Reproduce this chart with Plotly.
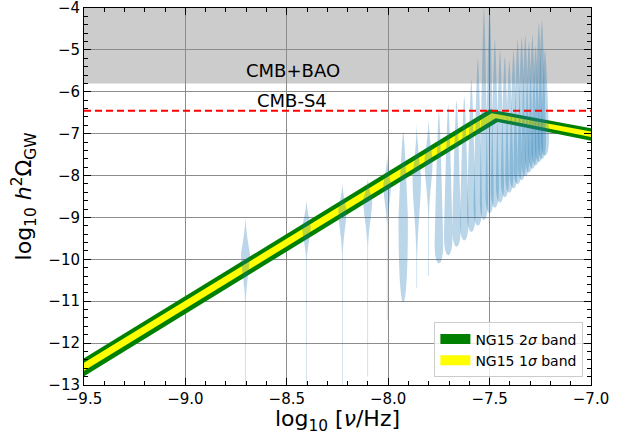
import numpy as np
import plotly.graph_objects as go

# ---------------- data ----------------
# NG15 broken power-law bands: (log10 f, log10 h^2 Omega) knots of each edge
band2_up_x = [-9.5, -7.50, -7.0]
band2_up_y = [-12.36, -6.42, -6.87]
band2_lo_x = [-9.5, -7.46, -7.0]
band2_lo_y = [-12.79, -6.72, -7.17]
band1_up_x = [-9.5, -7.49, -7.0]
band1_up_y = [-12.47, -6.51, -6.95]
band1_lo_x = [-9.5, -7.47, -7.0]
band1_lo_y = [-12.66, -6.63, -7.08]

# free-spectrum violins: frequency bin, top, widest point, end of bulk, bottom, half-width
vio_logf = [-8.704, -8.403, -8.226, -8.101, -8.005, -7.926, -7.859, -7.801, -7.750, -7.704,
            -7.663, -7.625, -7.590, -7.558, -7.528, -7.500, -7.474, -7.449, -7.425, -7.403,
            -7.382, -7.362, -7.342, -7.324, -7.306, -7.289, -7.273, -7.257, -7.242, -7.227]
vio_top = [-8.95, -8.55, -8.15, -8.05, -7.50, -6.96, -6.72, -6.60, -6.45, -6.30,
           -6.20, -6.10, -5.70, -5.20, -4.00, -3.90, -4.75, -5.00, -5.15, -5.25,
           -5.00, -4.75, -4.70, -4.65, -4.80, -4.65, -4.90, -4.35, -4.30, -5.00]
vio_peak = [-9.85, -9.20, -8.80, -8.55, -8.20, -9.00, -8.00, -7.60, -9.60, -9.40,
            -9.20, -9.05, -8.85, -8.70, -8.55, -8.40, -8.25, -8.15, -8.00, -7.90,
            -7.80, -7.70, -7.60, -7.50, -7.40, -7.35, -7.25, -7.20, -7.10, -7.05]
vio_bulk = [-11.0, -10.0, -9.9, -9.7, -9.2, -11.03, -10.0, -9.0, -10.1, -9.9,
            -9.7, -9.55, -9.35, -9.2, -9.06, -8.9, -8.77, -8.65, -8.52, -8.41,
            -8.31, -8.21, -8.11, -8.02, -7.93, -7.84, -7.76, -7.68, -7.61, -7.53]
vio_bot = [-13.0, -13.0, -13.0, -12.8, -11.45, -11.03, -10.68, -10.4, -10.1, -9.9,
           -9.7, -9.55, -9.35, -9.2, -9.06, -8.9, -8.77, -8.65, -8.52, -8.41,
           -8.31, -8.21, -8.11, -8.02, -7.93, -7.84, -7.76, -7.68, -7.61, -7.53]
vio_hw = [0.022, 0.021, 0.020, 0.022, 0.019, 0.023, 0.021, 0.020, 0.021, 0.021,
          0.021, 0.021, 0.021, 0.021, 0.020, 0.020, 0.020, 0.020, 0.020, 0.020,
          0.020, 0.020, 0.020, 0.020, 0.020, 0.020, 0.020, 0.020, 0.020, 0.020]
vio_kind = ['tail'] * 5 + ['round', 'tail', 'tail'] + ['round'] * 22

cmb_bao_lim = -5.8
cmb_s4_lim = -6.45

xticks = [-9.5, -9.0, -8.5, -8.0, -7.5, -7.0]
yticks = list(range(-13, -3))

FONT = "DejaVu Sans"


def violin_outline(xc, top, peak, bulk, bot, hw, kind):
    ys = np.linspace(bot, top, 200)
    ws = []
    for y in ys:
        if y >= peak:
            u = (y - peak) / (top - peak)
            ws.append(hw * (1 - u) ** (1.6 if kind == 'tail' else 0.7))
        elif kind == 'round':
            d = (peak - y) / (peak - bot)
            ws.append(hw * np.sqrt(max(0.0, 1 - d ** 2.5)))
        else:
            d = (peak - y) / (peak - bulk)
            ws.append(max(hw * np.exp(-2.5 * d * d), hw * 0.08))
    ws = np.array(ws)
    xs = np.concatenate([xc + ws, (xc - ws)[::-1]])
    yy = np.concatenate([ys, ys[::-1]])
    return xs, yy


fig = go.Figure()

# bands
def band(ux, uy, lx, ly):
    return list(ux) + list(lx)[::-1] + [ux[0]], list(uy) + list(ly)[::-1] + [uy[0]]

bx, by = band(band2_up_x, band2_up_y, band2_lo_x, band2_lo_y)
fig.add_trace(go.Scatter(x=bx, y=by, mode='none', fill='toself', fillcolor='#008000',
                         showlegend=False, hoverinfo='skip'))
bx, by = band(band1_up_x, band1_up_y, band1_lo_x, band1_lo_y)
fig.add_trace(go.Scatter(x=bx, y=by, mode='none', fill='toself', fillcolor='#ffff00',
                         showlegend=False, hoverinfo='skip'))

# legend swatches (rectangular patches like the reference)
fig.add_trace(go.Scatter(x=[None], y=[None], mode='lines',
                         line=dict(color='#008000', width=11),
                         name='NG15 2<i>σ</i> band'))
fig.add_trace(go.Scatter(x=[None], y=[None], mode='lines',
                         line=dict(color='#ffff00', width=11),
                         name='NG15 1<i>σ</i> band'))

# violins
for i in range(len(vio_logf)):
    xs, ys = violin_outline(vio_logf[i], vio_top[i], vio_peak[i], vio_bulk[i],
                            vio_bot[i], vio_hw[i], vio_kind[i])
    fig.add_trace(go.Scatter(x=xs, y=ys, mode='none', fill='toself',
                             fillcolor='rgba(31,119,180,0.3)', showlegend=False,
                             hoverinfo='skip'))

# CMB-S4 line
fig.add_trace(go.Scatter(x=[-9.5, -7.0], y=[cmb_s4_lim, cmb_s4_lim], mode='lines',
                         line=dict(color='red', width=2, dash='7px,4px'),
                         showlegend=False, hoverinfo='skip'))

# CMB+BAO excluded region
fig.add_shape(type='rect', xref='x', yref='y', x0=-9.5, x1=-7.0, y0=cmb_bao_lim, y1=-4,
              fillcolor='#cccccc', line=dict(width=0), layer='below')

fig.add_annotation(x=-8.47, y=-5.50, text='CMB+BAO', showarrow=False,
                   font=dict(family=FONT, size=18, color='black'))
fig.add_annotation(x=-8.475, y=-6.20, text='CMB-S4', showarrow=False,
                   font=dict(family=FONT, size=18, color='black'))

axis_common = dict(
    ticks='inside', ticklen=7, tickwidth=1, tickcolor='black',
    showline=True, linecolor='black', linewidth=1, mirror='ticks',
    showgrid=True, gridcolor='#8c8c8c', gridwidth=1, zeroline=False,
    tickfont=dict(family=FONT, size=15, color='black'),
    ticklabeloverflow='allow',
)

fig.update_xaxes(range=[-9.5, -7.0], tickvals=xticks, tickformat='.1f',
                 minor=dict(ticks='inside', ticklen=4, dtick=0.1, tick0=-9.5,
                            tickcolor='black', showgrid=False),
                 title=dict(text='log<sub>10</sub> [<i>ν</i>/Hz]',
                            font=dict(family=FONT, size=22, color='black'), standoff=6),
                 **axis_common)
fig.update_yaxes(range=[-13, -4], tickvals=yticks,
                 minor=dict(ticks='inside', ticklen=4, dtick=0.2, tick0=-13,
                            tickcolor='black', showgrid=False),
                 title=dict(text='log<sub>10</sub> <i>h</i><sup>2</sup>Ω<sub>GW</sub>',
                            font=dict(family=FONT, size=22, color='black'), standoff=10),
                 **axis_common)

fig.update_layout(
    width=620, height=435,
    margin=dict(l=84, r=29, t=8, b=50, autoexpand=False),
    plot_bgcolor='white', paper_bgcolor='white',
    font=dict(family=FONT, color='black'),
    showlegend=True,
    legend=dict(x=0.985, y=0.02, xanchor='right', yanchor='bottom',
                bgcolor='rgba(255,255,255,0.8)', bordercolor='#cccccc', borderwidth=1,
                font=dict(family=FONT, size=14, color='black'),
                tracegroupgap=0, itemwidth=30),
)

fig.write_html("out.html")
